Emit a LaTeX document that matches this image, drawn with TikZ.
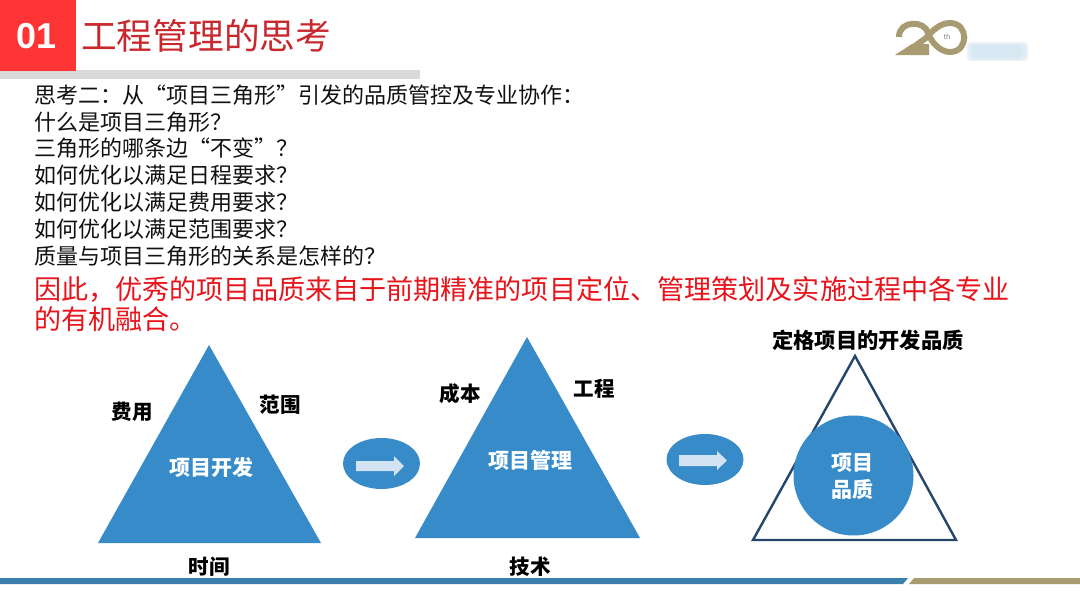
\documentclass[tikz,border=0pt]{standalone}
\usepackage{fontspec}
\usetikzlibrary{shapes.geometric}
\setmainfont{Noto Sans CJK SC}
\newfontfamily\latinbold{Liberation Sans}
\definecolor{tblue}{HTML}{378BC9}
\definecolor{tnavy}{HTML}{24466B}
\definecolor{tred}{HTML}{FF3434}
\definecolor{ttitle}{HTML}{C8282E}
\definecolor{tgray}{HTML}{D9D9D9}
\definecolor{ttan}{HTML}{A89B72}
\definecolor{tline}{HTML}{3A7FAE}
\definecolor{tarrow}{HTML}{D3E3F3}
\definecolor{tbody}{HTML}{111111}
\definecolor{tredtext}{HTML}{E8141C}
\definecolor{tblur}{HTML}{CFE3F1}
\tikzset{
  x=1pt,y=-1pt,
  lbl/.style={inner sep=0,font=\fontsize{20.5}{24}\selectfont\bfseries,text=black},
  wlbl/.style={inner sep=0,font=\fontsize{21}{27}\selectfont\bfseries,text=white,align=center},
  bluefill/.style={fill=tblue,draw=none},
  para/.style={inner sep=0,anchor=north west,align=left},
  blurbar/.style={fill=tblur,opacity=0.4,rounded corners=4pt},
}
\begin{document}
\begin{tikzpicture}
\useasboundingbox (0,0) rectangle (1080,608);
\fill[white] (0,0) rectangle (1080,608);
% header
\fill[tgray] (0,70) rectangle (420,79);
\fill[tred] (0,0) rectangle (76,71);
\node[inner sep=0,text=white,font=\fontsize{36}{40}\selectfont\latinbold\bfseries] (num) at (37,36) {01};
\node[inner sep=0,anchor=west,text=ttitle,font=\fontsize{35.7}{40}\selectfont] (title) at (81,36) {工程管理的思考};
% logo
\draw[ttan,line width=6pt] (899,37) .. controls (899,20) and (925,20) .. (928,33) .. controls (931,42) and (940,52) .. (950,52) .. controls (969,52) and (969,23) .. (950,23) .. controls (940,23) and (932,31) .. (926,38) -- (908,51);
\fill[ttan] (895,55) -- (912,44) -- (929,44) -- (929,55) -- cycle;
\node[inner sep=0,text=gray,font=\fontsize{7}{8}\selectfont] (th) at (947,37) {th};
\fill[blurbar] (967,42) rectangle (1028,61);
\fill[blurbar] (969,43.5) rectangle (1026,59.5);
\fill[blurbar] (972,45) rectangle (1022,58);
% text
\node[para,text=tbody,font=\fontsize{22}{26.8}\selectfont] (body) at (34,84.5) {思考二：从“项目三角形”引发的品质管控及专业协作：\\什么是项目三角形？\\三角形的哪条边“不变”？\\如何优化以满足日程要求？\\如何优化以满足费用要求？\\如何优化以满足范围要求？\\质量与项目三角形的关系是怎样的？};
\node[para,text=tredtext,font=\fontsize{27.1}{30}\selectfont] (concl) at (34,276) {因此，优秀的项目品质来自于前期精准的项目定位、管理策划及实施过程中各专业\\的有机融合。};
% triangles
\fill[bluefill] (209,345) -- (321,543) -- (98,543) -- cycle;
\fill[bluefill] (527,337) -- (640,538) -- (415,538) -- cycle;
\draw[tnavy,line width=2.4pt,line join=miter] (855,356) -- (956,540) -- (753,540) -- cycle;
\node[circle,bluefill,minimum size=120pt,inner sep=0] (quality) at (853.5,475.5) {};
\node[wlbl] (qtext) at (852,476) {项目\\品质};
\node[wlbl] (dev) at (211,467) {项目开发};
\node[wlbl] (mgmt) at (530,460) {项目管理};
% transition arrows
\node[ellipse,bluefill,minimum width=77pt,minimum height=51pt,inner sep=0] (e1) at (381.5,463.5) {};
\node[ellipse,bluefill,minimum width=77pt,minimum height=51pt,inner sep=0] (e2) at (705,459.5) {};
\fill[tarrow] (356,461) -- (394,461) -- (394,456) -- (404,466) -- (394,476) -- (394,471) -- (356,471) -- cycle;
\fill[tarrow] (679,455) -- (717,455) -- (717,451) -- (727,460.5) -- (717,470) -- (717,466) -- (679,466) -- cycle;
% labels
\node[lbl] (fy) at (132,412) {费用};
\node[lbl] (fw) at (280,405) {范围};
\node[lbl] (sj) at (209,567) {时间};
\node[lbl] (cb) at (460,394) {成本};
\node[lbl] (gc) at (594,389) {工程};
\node[lbl] (js) at (530,567) {技术};
\node[lbl,font=\fontsize{21.3}{24}\selectfont\bfseries] (dg) at (868,340) {定格项目的开发品质};
% footer
\fill[tline] (0,578) -- (908,578) -- (903,584) -- (0,584) -- cycle;
\fill[ttan] (914,578) -- (1080,578) -- (1080,584) -- (909,584) -- cycle;
\end{tikzpicture}
\end{document}
